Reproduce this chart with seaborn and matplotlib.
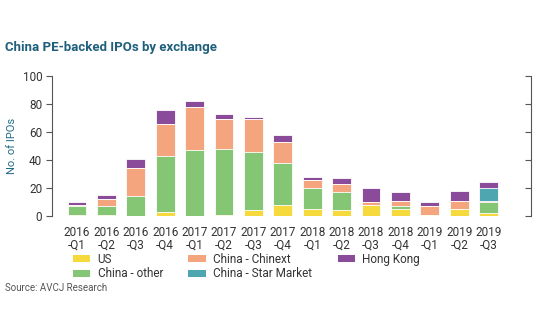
import matplotlib
matplotlib.use("Agg")
import matplotlib.pyplot as plt
import seaborn as sns
import pandas as pd
import numpy as np
from matplotlib.patches import Patch

quarters = ["2016\n-Q1", "2016\n-Q2", "2016\n-Q3", "2016\n-Q4",
            "2017\n-Q1", "2017\n-Q2", "2017\n-Q3", "2017\n-Q4",
            "2018\n-Q1", "2018\n-Q2", "2018\n-Q3", "2018\n-Q4",
            "2019\n-Q1", "2019\n-Q2", "2019\n-Q3"]
us           = [1, 1, 0, 3, 0, 1, 4, 8, 5, 4, 8, 5, 1, 5, 2]
china_other  = [6, 6, 14, 40, 47, 47, 42, 30, 15, 13, 0, 2, 0, 0, 8]
chinext      = [1, 5, 20, 23, 31, 21, 23, 15, 6, 6, 2, 4, 6, 6, 1]
star_market  = [0, 0, 0, 0, 0, 0, 0, 0, 0, 0, 0, 0, 0, 0, 9]
hong_kong    = [2, 3, 7, 10, 4, 4, 2, 5, 2, 4, 10, 6, 3, 7, 4]

series_names = ["US", "China - other", "China - Chinext", "China - Star Market", "Hong Kong"]
series_vals = [us, china_other, chinext, star_market, hong_kong]
colors = {"US": "#f6d93c", "China - other": "#84c673", "China - Chinext": "#f4a57d",
          "China - Star Market": "#4ea7b0", "Hong Kong": "#8a4b9b"}

rows = []
for name, vals in zip(series_names, series_vals):
    for q, v in zip(quarters, vals):
        rows.append({"quarter": q, "series": name, "value": v})
df = pd.DataFrame(rows)

sns.set_theme(style="white")
plt.rcParams["font.family"] = ["Roboto", "DejaVu Sans"]

fig = plt.figure(figsize=(5.4, 3.34), dpi=100)
ax = fig.add_axes([52/540, 1-216/334, (531-52)/540, 140/334])

bottom = np.zeros(len(quarters))
for name in series_names:
    sub = df[df.series == name].set_index("quarter").loc[quarters]
    vals = sub["value"].to_numpy(dtype=float)
    sns.barplot(x=quarters, y=vals + bottom, color=colors[name], ax=ax,
                width=0.64, saturation=1, edgecolor="white", linewidth=0.6,
                zorder=-series_names.index(name))
    bottom += vals

ax.set_xlim(-0.85, 15.44)
ax.set_ylim(0, 100)
ax.set_yticks([0, 20, 40, 60, 80, 100])
ax.tick_params(axis="y", which="both", direction="out", length=4, width=0.8,
               color="#555555", labelsize=8.5, labelcolor="#333333", left=True, pad=3)
ax.tick_params(axis="x", length=0, labelsize=8.5, labelcolor="#333333", pad=7)
for lab in ax.get_xticklabels():
    lab.set_linespacing(1.0)
ax.set_xlabel("")
ax.set_ylabel("No. of IPOs", color="#1f6a86", fontsize=8, labelpad=4)

for s in ["top", "bottom"]:
    ax.spines[s].set_visible(False)
for s in ["left", "right"]:
    ax.spines[s].set_color("#555555")
    ax.spines[s].set_linewidth(0.8)

ax2 = ax.twinx()
ax2.set_ylim(0, 100)
ax2.set_yticks([0, 20, 40, 60, 80, 100])
ax2.tick_params(axis="y", direction="in", length=4, width=0.8, color="#555555",
                labelright=False, right=True)
for s in ["top", "bottom", "left", "right"]:
    ax2.spines[s].set_visible(False)
ax2.grid(False)

fig.text(5/540, 1-47/334, "China PE-backed IPOs by exchange", color="#1f5f7c",
         fontsize=9.5, fontweight="bold", va="center", ha="left")

handles = [Patch(facecolor=colors[n], edgecolor="none") for n in series_names]
leg = fig.legend(handles, series_names, ncol=3, loc="upper left",
                 bbox_to_anchor=(68/540, 1-248/334), frameon=False, fontsize=8.5,
                 handlelength=1.5, handleheight=0.55, handletextpad=0.6,
                 columnspacing=2.15, labelspacing=0.15, borderaxespad=0)
for t in leg.get_texts():
    t.set_color("#333333")

fig.text(5/540, 1-288/334, "Source: AVCJ Research", color="#555555", fontsize=7,
         va="center", ha="left")

fig.savefig("out.png", dpi=100)
